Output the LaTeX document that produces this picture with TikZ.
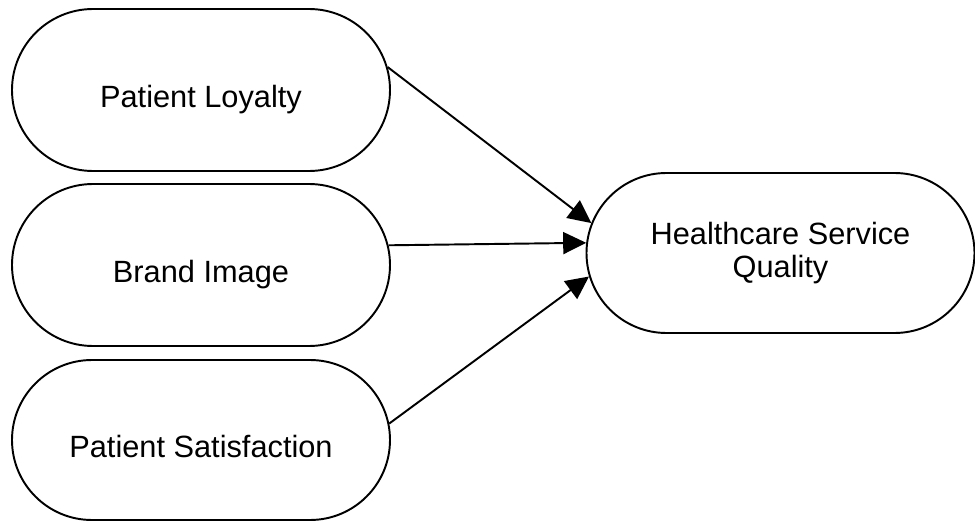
\documentclass[tikz,border=0pt]{standalone}
\usepackage{fontspec}
\setmainfont{Liberation Sans}
\usepackage{tikz}
\usetikzlibrary{shapes.misc,arrows.meta}
\tikzstyle{factor} = [draw, rounded rectangle, line width=1.1pt, minimum width=7.56cm, minimum height=3.24cm, inner sep=0pt]
\tikzstyle{caption} = [font=\fontsize{17.5pt}{18.5pt}\selectfont, text height=0.72em, text depth=0.21em, yshift=-0.26cm]

\begin{document}
\begin{tikzpicture}[->,>={Triangle[length=0.46cm,width=0.44cm]},line width=1.1pt,node distance=3.5cm]
\useasboundingbox (0,0) rectangle (19.5,-10.42);

\node[factor, name = loyalty,
label={[caption]center:Patient Loyalty}] (loyalty) at (4.02,-1.8) {};
\node[factor, name = brand, below of = loyalty,
label={[caption]center:Brand Image}] (brand) [] {};
\node[factor, name = satisfaction, below of = brand, minimum height=3.2cm,
label={[caption]center:Patient Satisfaction}] (satisfaction) [] {};
\node[factor, name = quality, node distance=11.59cm, right of = brand, yshift=0.24cm,
minimum width=7.76cm, minimum height=3.2cm, align=center,
font=\fontsize{17.5pt}{18.5pt}\selectfont] (quality) [] {Healthcare Service\\Quality};

\path
(loyalty.7) edge [] (quality.171)
(brand.6.4) edge [] (quality.177)
(satisfaction.5.2) edge [] (quality.187.4);

\end{tikzpicture}
\end{document}
